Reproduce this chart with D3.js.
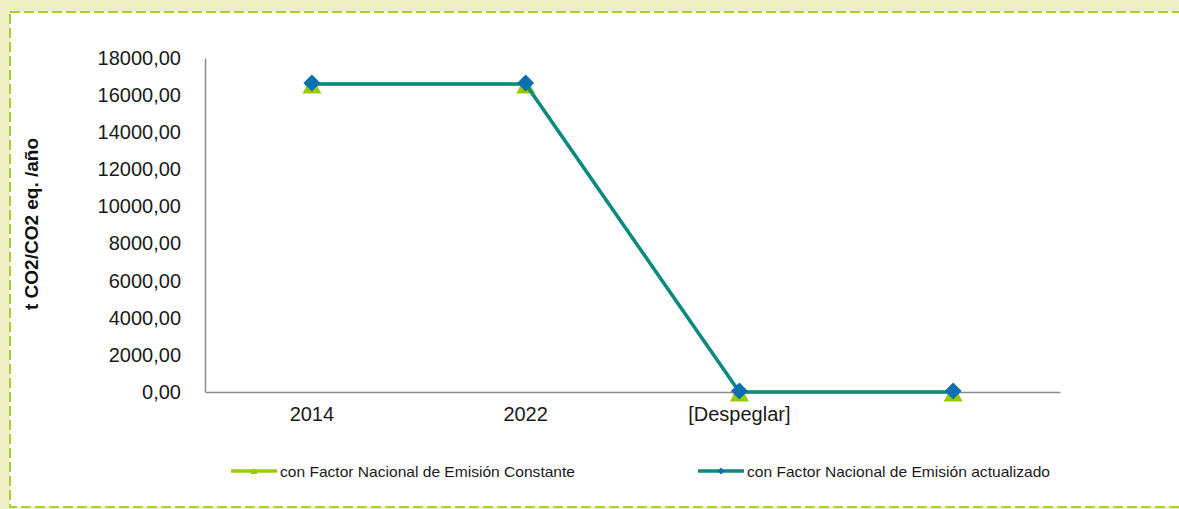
<!DOCTYPE html>
<html><head><meta charset="utf-8">
<script src="https://cdn.jsdelivr.net/npm/d3@7"></script>
<style>html,body{margin:0;padding:0;background:#efefc6;}svg{display:block;}</style>
</head><body>
<svg id="chart" width="1179" height="509"></svg>
<script>
const categories = ["2014", "2022", "[Despeglar]", ""];
const seriesConstante = [16600, 16600, 0, 0];
const seriesActualizado = [16600, 16600, 0, 0];
const yTicks = [0, 2000, 4000, 6000, 8000, 10000, 12000, 14000, 16000, 18000];
const seriesNames = ["con Factor Nacional de Emisión Constante", "con Factor Nacional de Emisión actualizado"];
const yTitle = "t CO2/CO2 eq. /año";

const svg = d3.select("#chart");
const W = 1179, H = 509;
svg.append("rect").attr("x", 0).attr("y", 0).attr("width", W).attr("height", H).attr("fill", "#efefc6");
svg.append("rect").attr("x", 10).attr("y", 12).attr("width", W - 9).attr("height", H - 14)
  .attr("fill", "#ffffff").attr("stroke", "#a6d22a").attr("stroke-width", 2).attr("stroke-dasharray", "10,4");

const m = {left: 205, right: 1060, top: 58, bottom: 392};
const x = d3.scaleBand().domain(categories.map((c, i) => i)).range([m.left, m.right]).padding(0);
const y = d3.scaleLinear().domain([0, 18000]).range([m.bottom, m.top]);
const cx = i => x(i) + x.bandwidth() / 2;
const fmt = v => d3.format(".2f")(v).replace(".", ",");

// y axis
const ya = svg.append("g").attr("transform", `translate(${m.left},0)`)
  .call(d3.axisLeft(y).tickValues(yTicks).tickFormat(fmt).tickSize(0).tickPadding(24));
ya.select(".domain").attr("stroke", "#8c8c8c").attr("stroke-width", 1.5);
ya.selectAll("text").attr("font-family", "Liberation Sans, Arial, sans-serif").attr("font-size", 20).attr("fill", "#1a1a1a");

// x axis
const xa = svg.append("g").attr("transform", `translate(0,${m.bottom})`)
  .call(d3.axisBottom(x).tickFormat(i => categories[i]).tickSize(0).tickPadding(15));
xa.select(".domain").attr("stroke", "#8c8c8c").attr("stroke-width", 1.5);
xa.selectAll("text").attr("font-family", "Liberation Sans, Arial, sans-serif").attr("font-size", 20).attr("fill", "#1a1a1a");

// y title
svg.append("text").attr("transform", `translate(38,${224}) rotate(-90)`)
  .attr("text-anchor", "middle").attr("font-family", "Liberation Sans, Arial, sans-serif")
  .attr("font-weight", "bold").attr("font-size", 19).attr("fill", "#111").text(yTitle);

const line = d3.line().x((d, i) => cx(i)).y(d => y(d));
const triColor = "#99cc00", tealColor = "#0a8a82", diaColor = "#0b6fb0";
const triPath = "M0,-8L9.5,9.5L-9.5,9.5Z";

// series 1 (triangles)
svg.append("path").datum(seriesConstante).attr("d", line).attr("fill", "none")
  .attr("stroke", triColor).attr("stroke-width", 3);
svg.selectAll(".tri").data(seriesConstante).join("path").attr("class", "tri")
  .attr("transform", (d, i) => `translate(${cx(i)},${y(d)})`).attr("d", triPath).attr("fill", triColor);

// series 2 (diamonds)
svg.append("path").datum(seriesActualizado).attr("d", line).attr("fill", "none")
  .attr("stroke", tealColor).attr("stroke-width", 3.5);
svg.selectAll(".dia").data(seriesActualizado).join("rect").attr("class", "dia")
  .attr("x", -6).attr("y", -6).attr("width", 12).attr("height", 12)
  .attr("transform", (d, i) => `translate(${cx(i)},${y(d) - 1}) rotate(45)`).attr("fill", diaColor);

// legend
const legend = [
  {name: seriesNames[0], color: triColor, x: 231, tl: 295, marker: "tri"},
  {name: seriesNames[1], color: tealColor, x: 698, tl: 303, marker: "dia"}
];
const ly = 471;
legend.forEach(l => {
  const g = svg.append("g");
  g.append("line").attr("x1", l.x).attr("x2", l.x + 46).attr("y1", ly).attr("y2", ly)
    .attr("stroke", l.color).attr("stroke-width", 3.5);
  if (l.marker === "tri") {
    g.append("path").attr("d", "M0,-3L3.5,3L-3.5,3Z").attr("transform", `translate(${l.x + 23},${ly})`).attr("fill", triColor);
  } else {
    g.append("rect").attr("x", -2.5).attr("y", -2.5).attr("width", 5).attr("height", 5)
      .attr("transform", `translate(${l.x + 23},${ly}) rotate(45)`).attr("fill", diaColor);
  }
  g.append("text").attr("x", l.x + 49).attr("y", ly + 5.5).attr("font-family", "Liberation Sans, Arial, sans-serif")
    .attr("font-size", 15).attr("fill", "#1a1a1a").attr("textLength", l.tl).attr("lengthAdjust", "spacingAndGlyphs").text(l.name);
});
</script>
</body></html>
